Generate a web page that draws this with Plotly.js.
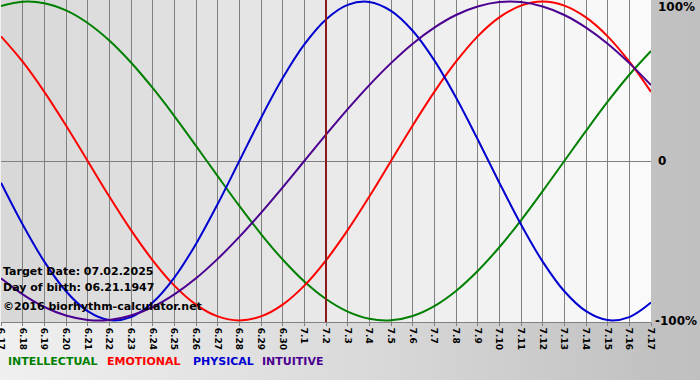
<!DOCTYPE html>
<html>
<head>
<meta charset="utf-8">
<script src="https://cdn.plot.ly/plotly-3.0.1.min.js"></script>
<style>
html,body{margin:0;padding:0;}
body{width:700px;height:380px;overflow:hidden;background:linear-gradient(to right,#f0f0f0 0%,#d8d8d8 55%,#c2c2c2 92%,#c0c0c0 100%);}
#chart{width:700px;height:380px;}
</style>
</head>
<body>
<div id="chart"></div>
<script>
// Day labels (x axis)
const dayLabels = ['6.17','6.18','6.19','6.20','6.21','6.22','6.23','6.24','6.25','6.26','6.27','6.28','6.29','6.30',
  '7.1','7.2','7.3','7.4','7.5','7.6','7.7','7.8','7.9','7.10','7.11','7.12','7.13','7.14','7.15','7.16','7.17'];
// Series values in percent, one per day
const intellectual = [97.2,99.9,99.0,94.5,86.6,75.6,61.8,45.8,28.2,9.5,-9.5,-28.2,-45.8,-61.8,-75.6,-86.6,-94.5,-99.0,-99.9,-97.2,-91.0,-81.5,-69.0,-54.1,-37.2,-18.9,0,18.9,37.2,54.1,69.0];
const emotional    = [78.2,62.3,43.4,22.3,0,-22.3,-43.4,-62.3,-78.2,-90.1,-97.5,-100,-97.5,-90.1,-78.2,-62.3,-43.4,-22.3,0,22.3,43.4,62.3,78.2,90.1,97.5,100,97.5,90.1,78.2,62.3,43.4];
const physical     = [-13.6,-39.8,-63.1,-81.7,-94.2,-99.8,-97.9,-88.8,-73.1,-52.0,-27.0,0,27.0,52.0,73.1,88.8,97.9,99.8,94.2,81.7,63.1,39.8,13.6,-13.6,-39.8,-63.1,-81.7,-94.2,-99.8,-97.9,-88.8];
const intuitive    = [-73.6,-83.7,-91.6,-96.9,-99.7,-99.7,-96.9,-91.6,-83.7,-73.6,-61.4,-47.6,-32.5,-16.5,0,16.5,32.5,47.6,61.4,73.6,83.7,91.6,96.9,99.7,99.7,96.9,91.6,83.7,73.6,61.4,47.6];
const targetLabel = '7.2';
const yTickText = ['100%','0','-100%'];
const seriesNames = ['INTELLECTUAL','EMOTIONAL','PHYSICAL','INTUITIVE'];
const seriesColors = ['#008000','#ff0000','#0000d0','#4b0090'];

const xIdx = dayLabels.map((_, i) => i);
const seriesData = [intellectual, emotional, physical, intuitive];

const traces = seriesData.map((ys, k) => ({
  x: xIdx, y: ys, type: 'scatter', mode: 'lines',
  line: {color: seriesColors[k], width: 2, shape: 'spline', smoothing: 1},
  hoverinfo: 'skip', showlegend: false
}));

// stepped background gradient in plot area
const shapes = [];
const n = dayLabels.length - 1;
for (let i = 0; i < n; i++) {
  const t = i / (n - 1);
  const v = Math.round(0xd8 + (0xfa - 0xd8) * t);
  const c = 'rgb(' + v + ',' + v + ',' + v + ')';
  shapes.push({type: 'rect', xref: 'x', yref: 'paper', x0: i, x1: i + 1, y0: 0, y1: 1,
    fillcolor: c, line: {width: 0}, layer: 'below'});
}
const ti = dayLabels.indexOf(targetLabel);
shapes.push({type: 'line', xref: 'x', yref: 'paper', x0: ti, x1: ti, y0: 0, y1: 1,
  line: {color: '#8c1a1a', width: 2}, layer: 'above'});

const W = 700, H = 380, mL = 1, mR = 49, mT = 0, mB = 58;
const pw = W - mL - mR, ph = H - mT - mB;
const px = x => (x - mL) / pw;
const py = y => (H - mB - y) / ph;

const bold = {family: 'DejaVu Sans', size: 11, color: '#000000', weight: 'bold'};
const annotations = [
  {text: 'Target Date: 07.02.2025', x: px(1), y: py(271)},
  {text: 'Day of birth: 06.21.1947', x: px(1), y: py(287)},
  {text: '\u00A92016 biorhythm-calculator.net', x: px(1), y: py(306)}
].map(a => Object.assign({xref: 'paper', yref: 'paper', xanchor: 'left', yanchor: 'middle',
  showarrow: false, font: bold}, a));

const legX = [6, 105, 191, 260];
seriesNames.forEach((nm, k) => annotations.push({
  text: nm, xref: 'paper', yref: 'paper', x: px(legX[k]), y: py(361), xanchor: 'left', yanchor: 'middle',
  showarrow: false, font: {family: 'DejaVu Sans', size: 11, color: seriesColors[k], weight: 'bold'}
}));

const yLab = [[656, 7], [656, 161], [653, 321]];
yTickText.forEach((t, k) => annotations.push({
  text: t, xref: 'paper', yref: 'paper', x: px(yLab[k][0]), y: py(yLab[k][1]), xanchor: 'left', yanchor: 'middle',
  showarrow: false, font: {family: 'DejaVu Sans', size: 12, color: '#000000', weight: 'bold'}
}));

const layout = {
  width: W, height: H,
  margin: {l: mL, r: mR, t: mT, b: mB, pad: 0},
  paper_bgcolor: 'rgba(0,0,0,0)', plot_bgcolor: 'rgba(0,0,0,0)',
  showlegend: false,
  xaxis: {range: [0, n], tickmode: 'array', tickvals: xIdx, ticktext: dayLabels, tickangle: 90,
    ticklabeloverflow: 'allow',
    tickfont: {family: 'DejaVu Sans', size: 9, color: '#000000', weight: 'bold'},
    showgrid: true, gridcolor: '#808080', gridwidth: 1, zeroline: false,
    showline: true, linecolor: '#808080', linewidth: 1, ticks: 'outside', ticklen: 3, tickcolor: '#808080',
    fixedrange: true},
  yaxis: {range: [-101, 101], showgrid: false, zeroline: true, zerolinecolor: '#808080', zerolinewidth: 1,
    showticklabels: false, ticks: '', fixedrange: true},
  shapes: shapes,
  annotations: annotations
};

Plotly.newPlot('chart', traces, layout, {displayModeBar: false, staticPlot: true});
</script>
</body>
</html>
